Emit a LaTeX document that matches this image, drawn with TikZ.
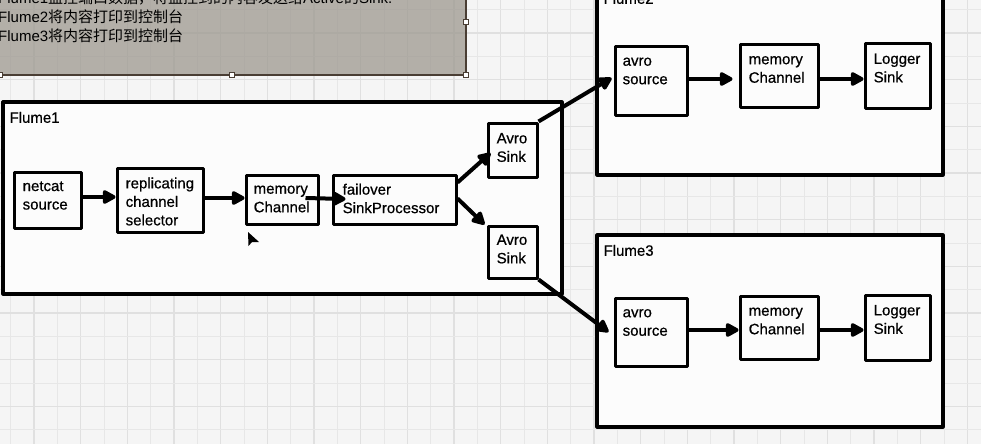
\documentclass[tikz,border=0pt]{standalone}
\usepackage{fontspec}
\setmainfont{Liberation Sans}[BoldFont={Liberation Sans}, BoldFeatures={FakeBold=0.6}]
\newfontfamily\cjk{Noto Sans CJK SC}
\usetikzlibrary{arrows.meta}
\definecolor{bgc}{RGB}{245,245,245}
\definecolor{gridc}{RGB}{231,231,231}
\definecolor{gridm}{RGB}{224,224,224}
\definecolor{notefill}{RGB}{157,152,143}
\definecolor{noteline}{RGB}{74,62,52}
\definecolor{boxfill}{RGB}{252,252,252}
\newcommand\zh[1]{{\cjk #1}}
\begin{document}
\begin{tikzpicture}[x=1pt,y=-1pt,
  blk/.style={draw=black, line width=3pt, fill=boxfill, inner sep=0pt, line join=round},
  cont/.style={draw=black, line width=3.2pt, fill=boxfill, inner sep=0pt, line join=round},
  txt/.style={font=\fontsize{15}{18.5}\selectfont\bfseries, align=left, inner sep=0pt, text=black},
  notetxt/.style={font=\fontsize{15}{19}\selectfont, inner sep=0pt, anchor=base west, text=black},
  arr/.style={line width=4pt, -{Triangle[length=15pt,width=15pt,round]}},
  handle/.style={draw=noteline, fill=white, line width=0.8pt}]
\useasboundingbox (0,0) rectangle (981,444);
\clip (0,0) rectangle (981,444);
% background and grid
\fill[bgc] (0,0) rectangle (981,444);
\foreach \k in {0,...,21} {
  \draw[gridc,line width=0.9pt] ({10.7+46.667*\k},0) -- ++(0,444);
  \draw[gridm,line width=1.1pt] ({34+46.667*\k},0) -- ++(0,444);
}
\foreach \k in {0,...,9} {
  \draw[gridc,line width=0.9pt] (0,{9.7+46.667*\k}) -- ++(981,0);
  \draw[gridm,line width=1.1pt] (0,{33+46.667*\k}) -- ++(981,0);
}
% note
\fill[notefill, opacity=0.75] (-5,-30) rectangle (466,75);
\draw[noteline, line width=1.4pt] (-5,-30) rectangle (466,75);
\node[notetxt] (note1) at (-2,3.4) {Flume1\zh{监控端口数据，将监控到的内容发送给}Active\zh{的}Sink.};
\node[notetxt] (note2) at (-2,22.4) {Flume2\zh{将内容打印到控制台}};
\node[notetxt] (note3) at (-2,41.4) {Flume3\zh{将内容打印到控制台}};
\draw[handle] (463.5,19.5) rectangle (468.5,24.5);
\draw[handle] (463.5,72.5) rectangle (468.5,77.5);
\draw[handle] (229.5,72.5) rectangle (234.5,77.5);
\draw[handle] (-2.5,72.5) rectangle (2.5,77.5);
% containers
\node[cont, minimum width=559pt, minimum height=192pt,
  label={[txt, anchor=west, xshift=8pt, yshift=-17pt]north west:Flume1}] (f1) at (282.5,198) {};
\node[cont, minimum width=346pt, minimum height=192pt,
  label={[txt, anchor=west, xshift=8pt, yshift=-17pt]north west:Flume2}] (f2) at (770,79) {};
\node[cont, minimum width=346pt, minimum height=192pt,
  label={[txt, anchor=west, xshift=8pt, yshift=-17pt]north west:Flume3}] (f3) at (770,331) {};
% Flume1 boxes
\node[blk, minimum width=67pt, minimum height=56pt,
  label={[txt, anchor=west, xshift=10pt, yshift=4.5pt]west:{netcat\\source}}] (netcat) at (47.5,200) {};
\node[blk, minimum width=86pt, minimum height=64pt,
  label={[txt, anchor=west, xshift=10pt, yshift=-1.5pt]west:{replicating\\channel\\selector}}] (repl) at (160,200) {};
\node[blk, minimum width=72pt, minimum height=49pt,
  label={[txt, anchor=west, xshift=9pt, yshift=0.5pt]west:{memory\\Channel}}] (mem1) at (282,199.5) {};
\node[blk, minimum width=123pt, minimum height=49pt,
  label={[txt, anchor=west, xshift=11pt, yshift=1pt]west:{failover\\SinkProcessor}}] (fail) at (394.5,199.5) {};
\node[blk, minimum width=49pt, minimum height=54pt,
  label={[txt, anchor=west, xshift=10pt, yshift=2.5pt]west:{Avro\\Sink}}] (avroA) at (512.5,150) {};
\node[blk, minimum width=49pt, minimum height=52pt,
  label={[txt, anchor=west, xshift=10pt, yshift=3pt]west:{Avro\\Sink}}] (avroB) at (512.5,252) {};
% Flume2 boxes
\node[blk, minimum width=72pt, minimum height=68pt,
  label={[txt, anchor=west, xshift=9pt, yshift=10pt]west:{avro\\source}}] (src2) at (651,81) {};
\node[blk, minimum width=78pt, minimum height=62pt,
  label={[txt, anchor=west, xshift=10pt, yshift=6.5pt]west:{memory\\Channel}}] (mem2) at (779,76) {};
\node[blk, minimum width=65pt, minimum height=64pt,
  label={[txt, anchor=west, xshift=10pt, yshift=8pt]west:{Logger\\Sink}}] (log2) at (897.5,76) {};
% Flume3 boxes
\node[blk, minimum width=72pt, minimum height=68pt,
  label={[txt, anchor=west, xshift=9pt, yshift=9.5pt]west:{avro\\source}}] (src3) at (651,332) {};
\node[blk, minimum width=78pt, minimum height=63pt,
  label={[txt, anchor=west, xshift=10pt, yshift=6.5pt]west:{memory\\Channel}}] (mem3) at (779,327.5) {};
\node[blk, minimum width=65pt, minimum height=65pt,
  label={[txt, anchor=west, xshift=10pt, yshift=8pt]west:{Logger\\Sink}}] (log3) at (897.5,327.5) {};
% connectors
\draw[arr] ([yshift=3pt]netcat.east) -- ([yshift=3pt]repl.west);
\draw[arr] ([yshift=2pt]repl.east) -- ([yshift=1.5pt]mem1.west);
\draw[arr] ([xshift=-14pt,yshift=1.5pt]mem1.east) -- ([xshift=14pt,yshift=0.5pt]fail.west);
\draw[arr] ([yshift=17pt]fail.east) -- ([xshift=4pt,yshift=-3pt]avroA.west);
\draw[arr] ([yshift=1pt]fail.east) -- ([xshift=-2pt]avroB.north west);
\draw[arr] (avroA.north east) -- ([xshift=-2pt,yshift=3pt]src2.west);
\draw[arr] (avroB.south east) -- ([xshift=-5pt]src3.west);
\draw[arr] ([yshift=2pt]src2.east) -- ([xshift=-6pt,yshift=-3pt]mem2.west);
\draw[arr] ([yshift=-3pt]mem2.east) -- ([yshift=-3pt]log2.west);
\draw[arr] ([yshift=2pt]src3.east) -- ([yshift=-2.5pt]mem3.west);
\draw[arr] ([yshift=-2.5pt]mem3.east) -- ([yshift=-2.5pt]log3.west);
% mouse cursor
\fill[black] (248,232) -- (248.5,246) -- (252,242) -- (259,242) -- cycle;
\end{tikzpicture}
\end{document}
